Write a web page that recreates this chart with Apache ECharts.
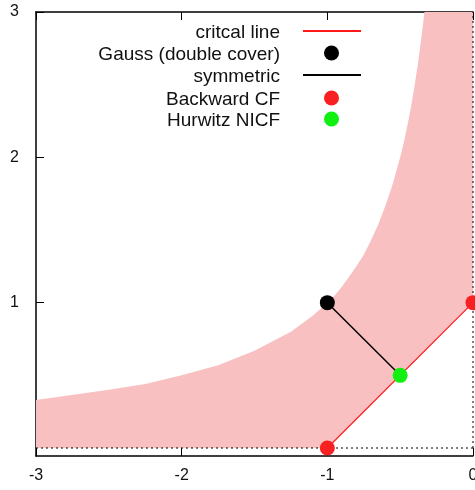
<!DOCTYPE html>
<html>
<head>
<meta charset="utf-8">
<script src="https://cdn.jsdelivr.net/npm/echarts@6/dist/echarts.min.js"></script>
<style>html,body{margin:0;padding:0;background:#fff}#main{width:475px;height:490px}</style>
</head>
<body>
<div id="main"></div>
<script>
var xTicks=[-3,-2,-1,0]
var yTicks=[1,2,3]
// upper edge of the shaded region (clipped at 3)
var edgeX=[-3,-2.5,-2.25,-2,-1.75,-1.5,-1.25,-1.1,-1,-0.95,-0.9,-0.85,-0.8,-0.75,-0.7,-0.65,-0.6,-0.55,-0.5,-0.475,-0.45,-0.425,-0.4,-0.38,-0.36,-0.345,-0.333,0]
var edgeY=[0.33,0.4,0.44,0.5,0.57,0.67,0.8,0.91,1,1.05,1.11,1.18,1.25,1.33,1.43,1.54,1.67,1.82,2,2.1,2.22,2.35,2.5,2.63,2.78,2.9,3,3]
// lower edge, going back right to left
var floorX=[0,-1,-3]
var floorY=[1,0,0]
var critical=[[-1,0],[0,1]]
var gauss=[[-1,1]]
var symmetric=[[-1,1],[-0.5,0.5]]
var backward=[[-1,0],[0,1]]
var hurwitz=[[-0.5,0.5]]
var zeroH=[[-3,0],[0,0]]
var zeroV=[[0,0],[0,3]]
var names=['critcal line','Gauss (double cover)','symmetric','Backward CF','Hurwitz NICF']
var isLine=[true,false,true,false,false]

var font='"Liberation Sans", Arial, sans-serif'
var ec=echarts.init(document.getElementById('main'))

// gnuplot style key: label right-aligned, sample to its right
var rowY=[31,53,75,98,119]
var legends=names.map(function(n,i){
  return {
    data:[n],orient:'horizontal',align:'left',padding:0,selectedMode:false,
    left:isLine[i]?302:324,top:rowY[i]-7.5,
    itemWidth:isLine[i]?58:15,itemHeight:15,
    itemStyle:isLine[i]?{opacity:0}:{opacity:1},
    formatter:function(){return ''}
  }
})
var keyText=names.map(function(n,i){
  return {type:'text',right:475-280,top:rowY[i]-8,
    style:{text:n,font:'19px '+font,fill:'#111',textAlign:'right'}}
})

var opt={
  animation:false,
  backgroundColor:'#fff',
  grid:{left:36,right:2,top:12,bottom:34,outerBoundsMode:'none'},
  legend:legends,
  graphic:keyText,
  xAxis:[{
    type:'value',min:-3,max:0,interval:1,position:'bottom',
    axisLine:{show:true,onZero:false,lineStyle:{color:'#000',width:1.5}},
    axisTick:{show:true,inside:true,length:8,lineStyle:{color:'#000',width:1}},
    axisLabel:{fontFamily:font,fontSize:16,color:'#111',margin:12},
    splitLine:{show:false}
  },{
    type:'value',min:-3,max:0,interval:1,position:'top',
    axisLine:{show:true,onZero:false,lineStyle:{color:'#000',width:1.5}},
    axisTick:{show:true,inside:true,length:8,lineStyle:{color:'#000',width:1}},
    axisLabel:{show:false},splitLine:{show:false}
  }],
  yAxis:{
    type:'value',min:-0.055,max:3,
    axisLine:{show:true,onZero:false,lineStyle:{color:'#000',width:1.5}},
    axisTick:{show:true,inside:true,length:8,customValues:yTicks,lineStyle:{color:'#000',width:1}},
    axisLabel:{fontFamily:font,fontSize:16,color:'#111',margin:17,customValues:yTicks},
    splitLine:{show:false}
  },
  series:[{
    type:'custom',name:'region',data:[0],z:1,silent:true,
    renderItem:function(params,api){
      var pts=[]
      edgeX.forEach(function(x,i){pts.push(api.coord([x,edgeY[i]]))})
      floorX.forEach(function(x,i){pts.push(api.coord([x,floorY[i]]))})
      return {type:'polygon',shape:{points:pts},style:{fill:'#f8c0c0',stroke:null}}
    }
  },{
    type:'line',name:'zeroH',data:zeroH,symbol:'none',z:3,silent:true,
    lineStyle:{color:'#000',width:1,type:[2,3]}
  },{
    type:'line',name:'zeroV',data:zeroV,symbol:'none',z:3,silent:true,
    lineStyle:{color:'#000',width:1,type:[2,3]}
  },{
    type:'line',name:names[0],data:critical,symbol:'none',z:4,
    itemStyle:{color:'#ff1a1a'},lineStyle:{color:'#ff1a1a',width:1.2}
  },{
    type:'line',name:names[2],data:symmetric,symbol:'none',z:4,
    itemStyle:{color:'#000'},lineStyle:{color:'#000',width:1.5}
  },{
    type:'scatter',name:names[1],data:gauss,symbol:'circle',symbolSize:15,z:5,
    itemStyle:{color:'#000',opacity:1}
  },{
    type:'scatter',name:names[3],data:backward,symbol:'circle',symbolSize:15,z:5,
    itemStyle:{color:'#f82020',opacity:1}
  },{
    type:'scatter',name:names[4],data:hurwitz,symbol:'circle',symbolSize:15,z:5,
    itemStyle:{color:'#12f012',opacity:1}
  }]
}
ec.setOption(opt)
</script>
</body>
</html>
